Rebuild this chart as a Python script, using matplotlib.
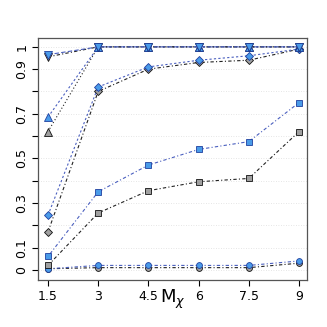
import matplotlib
matplotlib.use("Agg")
import matplotlib.pyplot as plt

x = [1.5, 3, 4.5, 6, 7.5, 9]
xticklabels = ["1.5", "3", "4.5", "6", "7.5", "9"]
yticks = [0, 0.1, 0.2, 0.3, 0.4, 0.5, 0.6, 0.7, 0.8, 0.9, 1.0]
ylabels = ["0", "0.1", "", "0.3", "", "0.5", "", "0.7", "", "0.9", "1"]

tri_down_blue = [0.965, 1.0, 1.0, 1.0, 1.0, 1.0]
tri_down_grey = [0.955, 1.0, 1.0, 1.0, 1.0, 1.0]
tri_up_blue = [0.685, 1.0, 1.0, 1.0, 1.0, 1.0]
tri_up_grey = [0.62, 1.0, 1.0, 1.0, 1.0, 1.0]
dia_blue = [0.245, 0.82, 0.91, 0.94, 0.96, 0.99]
dia_grey = [0.17, 0.80, 0.90, 0.93, 0.94, 0.99]
sq_blue = [0.06, 0.35, 0.47, 0.54, 0.575, 0.75]
sq_grey = [0.02, 0.255, 0.355, 0.395, 0.41, 0.62]
circ_blue = [0.005, 0.02, 0.02, 0.02, 0.02, 0.04]
circ_grey = [0.005, 0.01, 0.01, 0.01, 0.01, 0.03]

fig = plt.figure(figsize=(3.27, 3.27), dpi=100)
ax = fig.add_axes([0.116, 0.144, 0.823, 0.74])

blue_fill = "#4a9be8"
blue_edge = "#1f3f9f"
blue_line = "#4a5fbf"
grey_fill = "#a0a0a0"
grey_edge = "#111111"
grey_line = "#222222"

series = [
    (circ_grey, "o", grey_fill, grey_edge, grey_line, (0, (3, 2, 1, 2))),
    (circ_blue, "o", blue_fill, blue_edge, blue_line, (0, (3, 2, 1, 2))),
    (sq_grey, "s", grey_fill, grey_edge, grey_line, (0, (3, 2, 1, 2))),
    (sq_blue, "s", blue_fill, blue_edge, blue_line, (0, (1, 2, 3, 2))),
    (dia_grey, "D", grey_fill, grey_edge, grey_line, (0, (3, 2, 1, 2))),
    (dia_blue, "D", blue_fill, blue_edge, blue_line, (0, (2, 2))),
    (tri_up_grey, "^", grey_fill, grey_edge, grey_line, (0, (1, 2))),
    (tri_up_blue, "^", blue_fill, blue_edge, blue_line, (0, (2, 2))),
    (tri_down_grey, "v", grey_fill, grey_edge, grey_line, (0, (3, 2, 1, 2))),
    (tri_down_blue, "v", blue_fill, blue_edge, blue_line, (0, (4, 2))),
]
sizes = {"o": 4.2, "s": 4.0, "D": 3.8, "^": 5.2, "v": 5.2}
for ys, m, fc, ec, lc, ls in series:
    ax.plot(x, ys, linestyle=ls, color=lc, linewidth=0.8, marker=m,
            markersize=sizes[m], markerfacecolor=fc, markeredgecolor=ec,
            markeredgewidth=0.6, zorder=3)

ax.set_xlim(1.2, 9.24)
ax.set_ylim(-0.045, 1.04)
ax.set_xticks(x)
ax.set_xticklabels(xticklabels, fontsize=9)
ax.set_yticks(yticks)
ax.set_yticklabels(ylabels, fontsize=9, rotation=90, va="center")
for y in yticks:
    ax.axhline(y, color="#dddddd", linestyle=(0, (1, 2)), linewidth=0.6, zorder=0)
ax.set_xlabel(r"M$_\chi$", fontsize=13, labelpad=-11)
ax.tick_params(length=4, width=0.8, pad=3)
for s in ax.spines.values():
    s.set_color("#555555")
    s.set_linewidth(0.9)

fig.savefig("out.png", dpi=100)
